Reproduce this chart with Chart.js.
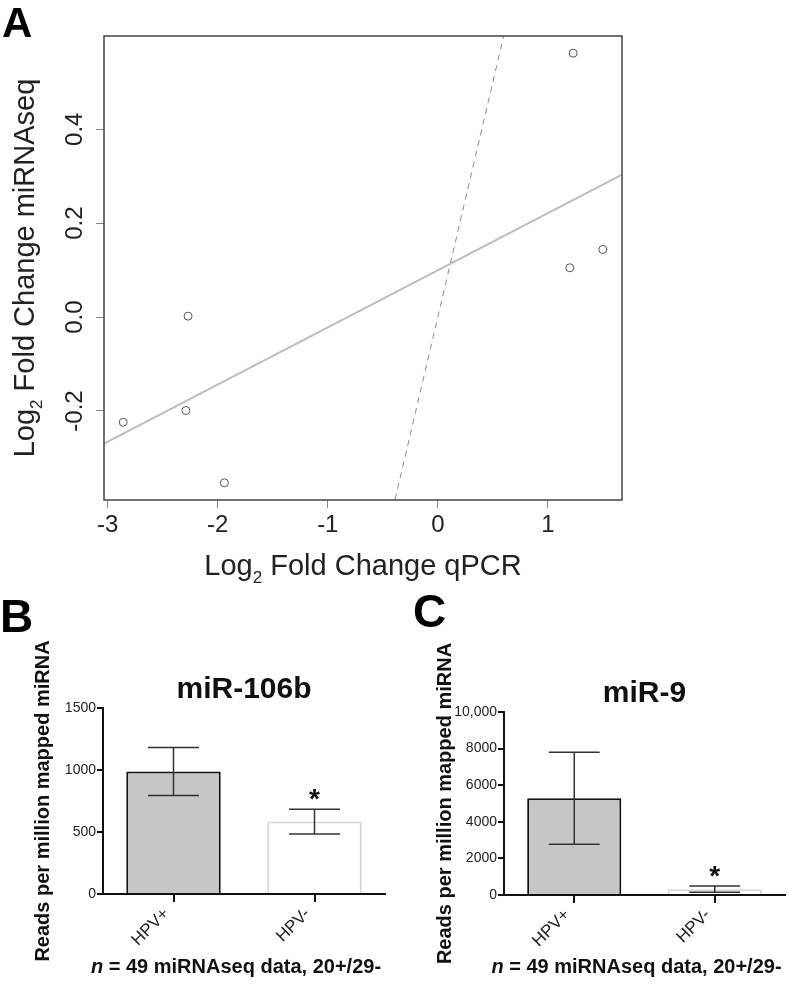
<!DOCTYPE html>
<html>
<head>
<meta charset="utf-8">
<title>miRNA fold change and expression</title>
<script src="https://cdn.jsdelivr.net/npm/chart.js@4.4.1/dist/chart.umd.min.js"></script>
<style>
  html, body { margin: 0; padding: 0; background: #fff; }
  #wrap { position: relative; width: 788px; height: 985px; }
  canvas { position: absolute; }
  #chartA { left: 0; top: 0; }
  #chartB { left: 0; top: 580px; }
  #chartC { left: 394px; top: 580px; }
</style>
</head>
<body>
<div id="wrap">
  <canvas id="chartA" width="788" height="600"></canvas>
  <canvas id="chartB" width="394" height="405"></canvas>
  <canvas id="chartC" width="394" height="405"></canvas>
</div>
<script>
const FONT = '"Liberation Sans", Arial, Helvetica, sans-serif';

// A: log2 fold change for each miRNA, qPCR vs miRNAseq
const qpcrFC = [-2.86, -2.29, -2.27, -1.94, 1.20, 1.23, 1.50];
const seqFC = [-0.224, -0.199, 0.002, -0.353, 0.105, 0.562, 0.144];
const xTicksA = [-3, -2, -1, 0, 1];
const yTicksA = [-0.2, 0.0, 0.2, 0.4];

// B, C: reads per million mapped miRNA, mean and SEM
const groups = ['HPV+', 'HPV-'];
const mir106bMean = [988, 584];
const mir106bSem = [194, 100];
const mir9Mean = [5290, 320];
const mir9Sem = [2510, 175];
const yTicksB = [0, 500, 1000, 1500];
const yTicksC = [0, 2000, 4000, 6000, 8000, 10000];

// R style axis limits: data range + 4%
function rRange(v) {
    const lo = Math.min(...v), hi = Math.max(...v);
    const pad = (hi - lo) * 0.04;
    return [lo - pad, hi + pad];
}
const xLimA = rRange(qpcrFC);
const yLimA = rRange(seqFC);

// least squares fit of miRNAseq on qPCR
const n = qpcrFC.length;
const mx = qpcrFC.reduce((s, v) => s + v, 0) / n;
const my = seqFC.reduce((s, v) => s + v, 0) / n;
let sxy = 0, sxx = 0;
for (let i = 0; i < n; i++) {
    sxy += (qpcrFC[i] - mx) * (seqFC[i] - my);
    sxx += (qpcrFC[i] - mx) * (qpcrFC[i] - mx);
}
const slope = sxy / sxx;
const icpt = my - slope * mx;

function drawLog2(ctx, rest, cx, cy, rot) {
    const big = '29px ' + FONT, small = '17px ' + FONT;
    ctx.save();
    ctx.translate(cx, cy);
    ctx.rotate(rot);
    ctx.font = big;
    const w1 = ctx.measureText('Log').width;
    const w3 = ctx.measureText(' ' + rest).width;
    ctx.font = small;
    const w2 = ctx.measureText('2').width;
    let x = -(w1 + w2 + w3) / 2;
    ctx.textAlign = 'left';
    ctx.textBaseline = 'alphabetic';
    ctx.fillStyle = '#222';
    ctx.font = big; ctx.fillText('Log', x, 0); x += w1;
    ctx.font = small; ctx.fillText('2', x, 8); x += w2;
    ctx.font = big; ctx.fillText(' ' + rest, x, 0);
    ctx.restore();
}

const panelA = {
    id: 'panelA',
    afterDraw(chart) {
        const {ctx, chartArea: a, scales} = chart;
        ctx.save();
        ctx.strokeStyle = '#444';
        ctx.lineWidth = 1.5;
        ctx.strokeRect(a.left, a.top, a.right - a.left, a.bottom - a.top);

        // y tick labels turned 90 degrees, as R draws them
        ctx.fillStyle = '#222';
        ctx.font = '24px ' + FONT;
        ctx.textAlign = 'center';
        ctx.textBaseline = 'alphabetic';
        yTicksA.forEach(v => {
            const y = scales.y.getPixelForValue(v);
            ctx.save();
            ctx.translate(a.left - 22, y);
            ctx.rotate(-Math.PI / 2);
            ctx.fillText(v.toFixed(1), 0, 0);
            ctx.restore();
        });

        drawLog2(ctx, 'Fold Change qPCR', (a.left + a.right) / 2, 575, 0);
        drawLog2(ctx, 'Fold Change miRNAseq', 34, (a.top + a.bottom) / 2, -Math.PI / 2);

        ctx.font = 'bold 42px ' + FONT;
        ctx.textAlign = 'left';
        ctx.fillStyle = '#000';
        ctx.fillText('A', 2, 37);
        ctx.restore();
    }
};

new Chart(document.getElementById('chartA'), {
    type: 'scatter',
    data: {
        datasets: [
            {
                type: 'line',
                data: xLimA.map(x => ({x: x, y: icpt + slope * x})),
                borderColor: '#bdbdbd',
                borderWidth: 2,
                pointRadius: 0
            },
            {
                type: 'line',
                data: xLimA.map(x => ({x: x, y: x})),
                borderColor: '#8c8c8c',
                borderWidth: 1,
                borderDash: [6, 5],
                pointRadius: 0
            },
            {
                data: qpcrFC.map((x, i) => ({x: x, y: seqFC[i]})),
                pointRadius: 4,
                borderColor: '#555',
                backgroundColor: 'rgba(0,0,0,0)',
                borderWidth: 1
            }
        ]
    },
    options: {
        responsive: false,
        animation: false,
        events: [],
        layout: { padding: { left: 0, top: 36, right: 166, bottom: 0 } },
        plugins: { legend: { display: false }, tooltip: { enabled: false } },
        scales: {
            x: {
                type: 'linear',
                min: xLimA[0],
                max: xLimA[1],
                afterBuildTicks: s => { s.ticks = xTicksA.map(v => ({value: v})); },
                afterFit: s => { s.height = 100; },
                grid: { drawOnChartArea: false, tickLength: 8, color: '#888' },
                border: { display: false },
                ticks: {
                    font: { size: 24, family: FONT },
                    color: '#222',
                    padding: 3,
                    callback: v => String(v)
                }
            },
            y: {
                min: yLimA[0],
                max: yLimA[1],
                afterBuildTicks: s => { s.ticks = yTicksA.map(v => ({value: v})); },
                afterFit: s => { s.width = 104; },
                grid: { drawOnChartArea: false, tickLength: 8, color: '#888' },
                border: { display: false },
                ticks: { display: false }
            }
        }
    },
    plugins: [panelA]
});

// error bars, significance star, titles
function barExtras(title, means, sems, letter, letterX, letterY) {
    return {
        id: 'barExtras',
        afterDatasetsDraw(chart) {
            const {ctx, chartArea: a, scales: {y}} = chart;
            const bars = chart.getDatasetMeta(0).data;
            ctx.save();
            ctx.strokeStyle = '#333';
            ctx.lineWidth = 1.5;
            let starY = 0;
            bars.forEach((bar, i) => {
                const top = y.getPixelForValue(means[i] + sems[i]);
                const bot = y.getPixelForValue(means[i] - sems[i]);
                const hw = bar.width * 0.27;
                ctx.beginPath();
                ctx.moveTo(bar.x, top); ctx.lineTo(bar.x, bot);
                ctx.moveTo(bar.x - hw, top); ctx.lineTo(bar.x + hw, top);
                ctx.moveTo(bar.x - hw, bot); ctx.lineTo(bar.x + hw, bot);
                ctx.stroke();
                if (i === 1) starY = top;
            });

            ctx.fillStyle = '#111';
            ctx.textAlign = 'center';
            ctx.textBaseline = 'alphabetic';
            ctx.font = 'bold 28px ' + FONT;
            ctx.fillText('*', bars[1].x, starY - 1);

            const cx = (a.left + a.right) / 2;
            ctx.font = 'bold 30px ' + FONT;
            ctx.fillText(title, cx, a.top - 10);

            // footnote, italic n
            const nFont = 'italic bold 20px ' + FONT, rFont = 'bold 20px ' + FONT;
            const rest = ' = 49 miRNAseq data, 20+/29-';
            ctx.font = nFont;
            const w1 = ctx.measureText('n').width;
            ctx.font = rFont;
            const w2 = ctx.measureText(rest).width;
            let x = cx - 8 - (w1 + w2) / 2;
            ctx.textAlign = 'left';
            ctx.font = nFont; ctx.fillText('n', x, 393);
            ctx.font = rFont; ctx.fillText(rest, x + w1, 393);

            ctx.fillStyle = '#000';
            ctx.font = 'bold 46px ' + FONT;
            ctx.fillText(letter, letterX, letterY);
            ctx.restore();
        }
    };
}

function makeBarChart(id, title, means, sems, yTicks, geo, letter) {
    return new Chart(document.getElementById(id), {
        type: 'bar',
        data: {
            labels: groups,
            datasets: [{
                data: means,
                backgroundColor: ['#c6c6c6', '#ffffff'],
                borderColor: ['#111111', '#d6d6d6'],
                borderWidth: 2,
                barPercentage: 0.67,
                categoryPercentage: 1
            }]
        },
        options: {
            responsive: false,
            animation: false,
            events: [],
            layout: { padding: { left: 0, top: geo.top, right: geo.right, bottom: 0 } },
            plugins: { legend: { display: false }, tooltip: { enabled: false } },
            scales: {
                x: {
                    afterFit: s => { s.height = geo.xHeight; },
                    grid: { offset: false, drawOnChartArea: false, tickLength: 8, color: '#111', lineWidth: 2 },
                    border: { color: '#111', width: 2 },
                    ticks: {
                        minRotation: 45,
                        maxRotation: 45,
                        labelOffset: -7,
                        font: { size: 17, family: FONT },
                        color: '#222',
                        padding: 2
                    }
                },
                y: {
                    min: yTicks[0],
                    max: yTicks[yTicks.length - 1],
                    afterBuildTicks: s => { s.ticks = yTicks.map(v => ({value: v})); },
                    afterFit: s => { s.width = geo.yWidth; },
                    grid: { drawOnChartArea: false, tickLength: 6, color: '#111', lineWidth: 2 },
                    border: { color: '#111', width: 2 },
                    ticks: {
                        font: { size: 14, family: FONT },
                        color: '#222',
                        padding: 1,
                        callback: v => v >= 10000 ? v.toLocaleString('en-US') : String(v)
                    },
                    title: {
                        display: true,
                        text: 'Reads per million mapped miRNA',
                        font: { size: 20, weight: 'bold', family: FONT },
                        color: '#111',
                        padding: { top: geo.titlePad, bottom: 0 }
                    }
                }
            }
        },
        plugins: [barExtras(title, means, sems, letter, geo.letterX, geo.letterY)]
    });
}

makeBarChart('chartB', 'miR-106b', mir106bMean, mir106bSem, yTicksB,
    { top: 128, right: 9, xHeight: 91, yWidth: 103, titlePad: 31, letterX: 0, letterY: 52 }, 'B');
makeBarChart('chartC', 'miR-9', mir9Mean, mir9Sem, yTicksC,
    { top: 132, right: 3, xHeight: 90, yWidth: 110, titlePad: 39, letterX: 19, letterY: 47 }, 'C');
</script>
</body>
</html>
